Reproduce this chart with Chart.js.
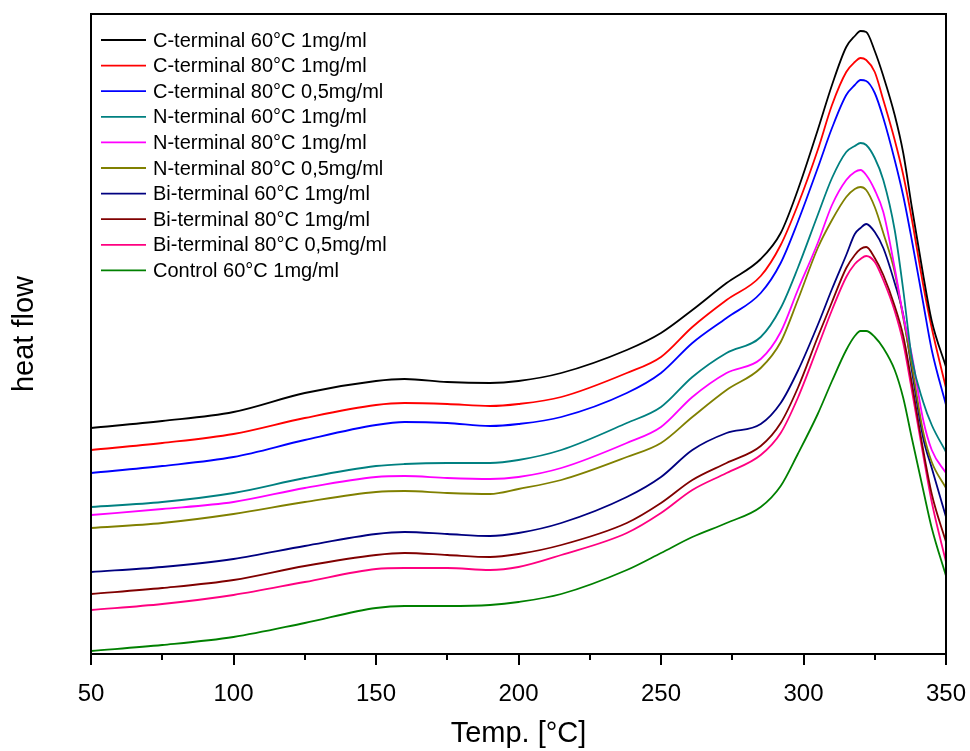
<!DOCTYPE html>
<html>
<head>
<meta charset="utf-8">
<script src="https://cdn.jsdelivr.net/npm/chart.js@4"></script>
<style>
    html, body { margin: 0; padding: 0; background: #ffffff; }
    #wrap { width: 970px; height: 751px; }
</style>
</head>
<body>
<div id="wrap"><canvas id="dsc-chart" width="970" height="751"></canvas></div>
<script>
// temperature grid shared by every trace
const temps = [50, 75, 100, 125, 150, 160, 175, 190, 200, 215, 238, 250, 261, 273, 285, 292, 298, 305, 310, 315, 318, 320, 322, 325, 328, 332, 335, 338, 342, 345, 350];

const cTerm60_1 = [2.26, 2.33, 2.42, 2.61, 2.73, 2.75, 2.72, 2.71, 2.73, 2.81, 3.04, 3.21, 3.44, 3.71, 3.95, 4.21, 4.64, 5.24, 5.69, 6.07, 6.18, 6.23, 6.22, 6.03, 5.78, 5.39, 5.01, 4.47, 3.79, 3.33, 2.87];
const cTerm80_1 = [2.04, 2.11, 2.20, 2.36, 2.49, 2.51, 2.50, 2.48, 2.50, 2.57, 2.81, 2.97, 3.27, 3.54, 3.78, 4.09, 4.49, 5.04, 5.49, 5.82, 5.92, 5.96, 5.94, 5.82, 5.54, 5.14, 4.79, 4.35, 3.69, 3.26, 2.66];
const cTerm80_05 = [1.81, 1.88, 1.97, 2.14, 2.29, 2.32, 2.31, 2.28, 2.30, 2.37, 2.61, 2.81, 3.11, 3.36, 3.61, 3.91, 4.32, 4.86, 5.26, 5.59, 5.69, 5.74, 5.73, 5.61, 5.36, 4.94, 4.58, 4.14, 3.51, 3.04, 2.49];
const nTerm60_1 = [1.47, 1.52, 1.61, 1.76, 1.88, 1.90, 1.91, 1.91, 1.94, 2.04, 2.31, 2.47, 2.77, 3.01, 3.17, 3.46, 3.86, 4.39, 4.76, 5.02, 5.08, 5.11, 5.09, 4.96, 4.74, 4.24, 3.64, 2.96, 2.52, 2.29, 2.02];
const nTerm80_1 = [1.39, 1.45, 1.52, 1.66, 1.77, 1.78, 1.76, 1.75, 1.77, 1.86, 2.11, 2.27, 2.57, 2.81, 2.95, 3.22, 3.64, 4.11, 4.49, 4.74, 4.82, 4.84, 4.79, 4.64, 4.42, 3.86, 3.38, 2.99, 2.34, 2.04, 1.81];
const nTerm80_05 = [1.26, 1.31, 1.40, 1.52, 1.62, 1.63, 1.61, 1.60, 1.65, 1.74, 1.97, 2.11, 2.37, 2.64, 2.86, 3.12, 3.54, 4.06, 4.34, 4.57, 4.65, 4.67, 4.64, 4.47, 4.21, 3.82, 3.36, 2.89, 2.22, 1.92, 1.66];
const biTerm60_1 = [0.82, 0.87, 0.95, 1.08, 1.20, 1.22, 1.20, 1.18, 1.21, 1.31, 1.57, 1.77, 2.04, 2.21, 2.30, 2.51, 2.83, 3.29, 3.65, 3.99, 4.20, 4.26, 4.30, 4.22, 4.06, 3.71, 3.39, 2.84, 2.16, 1.86, 1.37];
const biTerm80_1 = [0.60, 0.66, 0.74, 0.88, 0.99, 1.01, 0.99, 0.97, 1.00, 1.09, 1.31, 1.51, 1.74, 1.91, 2.08, 2.31, 2.66, 3.17, 3.52, 3.86, 3.99, 4.05, 4.07, 3.96, 3.79, 3.48, 3.18, 2.71, 2.04, 1.60, 1.12];
const biTerm80_05 = [0.44, 0.50, 0.59, 0.72, 0.85, 0.86, 0.86, 0.84, 0.87, 0.99, 1.21, 1.41, 1.64, 1.81, 1.99, 2.21, 2.56, 3.07, 3.44, 3.77, 3.90, 3.95, 3.98, 3.92, 3.74, 3.43, 3.11, 2.64, 1.99, 1.52, 0.92];
const control60_1 = [0.03, 0.09, 0.17, 0.31, 0.46, 0.48, 0.48, 0.49, 0.52, 0.60, 0.84, 1.01, 1.17, 1.31, 1.47, 1.68, 2.00, 2.40, 2.73, 3.04, 3.18, 3.23, 3.23, 3.17, 3.06, 2.84, 2.56, 2.16, 1.64, 1.26, 0.78];

const seriesLabels = [
    "C-terminal 60°C 1mg/ml",
    "C-terminal 80°C 1mg/ml",
    "C-terminal 80°C 0,5mg/ml",
    "N-terminal 60°C 1mg/ml",
    "N-terminal 80°C 1mg/ml",
    "N-terminal 80°C 0,5mg/ml",
    "Bi-terminal 60°C 1mg/ml",
    "Bi-terminal 80°C 1mg/ml",
    "Bi-terminal 80°C 0,5mg/ml",
    "Control 60°C 1mg/ml"
];
const seriesValues = [cTerm60_1, cTerm80_1, cTerm80_05, nTerm60_1, nTerm80_1, nTerm80_05, biTerm60_1, biTerm80_1, biTerm80_05, control60_1];
const seriesColors = ["#000000", "#ff0000", "#0000ff", "#008080", "#ff00ff", "#808000", "#000080", "#800000", "#ff0080", "#008000"];

const xTicks = [50, 100, 150, 200, 250, 300, 350];
const xMinorTicks = [75, 125, 175, 225, 275, 325];

const FONT = "'Liberation Sans', Arial, sans-serif";
const LINE_W = 1.8;

// box around the plot + minor ticks on the x axis
const framePlugin = {
    id: "frame",
    afterDraw(chart) {
        const { ctx, chartArea } = chart;
        const xScale = chart.scales.x;
        ctx.save();
        ctx.strokeStyle = "#000000";
        ctx.lineWidth = 2;
        ctx.strokeRect(chartArea.left, chartArea.top, chartArea.right - chartArea.left, chartArea.bottom - chartArea.top);
        ctx.beginPath();
        xMinorTicks.forEach((t) => {
            const px = Math.round(xScale.getPixelForValue(t));
            ctx.moveTo(px, chartArea.bottom);
            ctx.lineTo(px, chartArea.bottom + 6);
        });
        xTicks.forEach((t) => {
            const px = Math.round(xScale.getPixelForValue(t));
            ctx.moveTo(px, chartArea.bottom);
            ctx.lineTo(px, chartArea.bottom + 11);
        });
        ctx.stroke();
        ctx.restore();
    }
};

// legend drawn inside the plot, upper left
const insideLegend = {
    id: "insideLegend",
    afterDatasetsDraw(chart) {
        const { ctx, chartArea } = chart;
        const x0 = chartArea.left + 10;
        const y0 = chartArea.top + 26;
        const rowH = 25.6;
        ctx.save();
        ctx.font = "20px " + FONT;
        ctx.textBaseline = "middle";
        ctx.fillStyle = "#000000";
        chart.data.datasets.forEach((ds, i) => {
            const y = y0 + i * rowH;
            ctx.strokeStyle = ds.borderColor;
            ctx.lineWidth = LINE_W;
            ctx.beginPath();
            ctx.moveTo(x0, y);
            ctx.lineTo(x0 + 45, y);
            ctx.stroke();
            ctx.fillText(ds.label, x0 + 52, y + 1);
        });
        ctx.restore();
    }
};

const datasets = seriesValues.map((values, i) => ({
    label: seriesLabels[i],
    data: values.map((v, j) => ({ x: temps[j], y: v })),
    borderColor: seriesColors[i],
    borderWidth: LINE_W,
    pointRadius: 0,
    fill: false,
    cubicInterpolationMode: "monotone"
}));

new Chart(document.getElementById("dsc-chart").getContext("2d"), {
    type: "line",
    data: { datasets },
    plugins: [framePlugin, insideLegend],
    options: {
        responsive: false,
        animation: false,
        layout: { padding: { top: 14, right: 24, left: 8, bottom: 0 } },
        plugins: {
            legend: { display: false },
            tooltip: { enabled: false }
        },
        scales: {
            x: {
                type: "linear",
                min: 50,
                max: 350,
                grid: { display: false, drawOnChartArea: false },
                border: { display: false },
                afterBuildTicks(scale) {
                    scale.ticks = xTicks.map((v) => ({ value: v }));
                },
                afterFit(scale) {
                    scale.height = 97;
                    scale.paddingLeft = 0;
                    scale.paddingRight = 0;
                },
                ticks: {
                    color: "#000000",
                    font: { family: FONT, size: 24 },
                    padding: 18,
                    maxRotation: 0
                },
                title: {
                    display: true,
                    text: "Temp. [°C]",
                    color: "#000000",
                    font: { family: FONT, size: 29 },
                    padding: { top: 4, bottom: 0 }
                }
            },
            y: {
                min: 0,
                max: 6.4,
                grid: { display: false },
                border: { display: false },
                ticks: { display: false },
                afterFit(scale) {
                    scale.width = 83;
                    scale.paddingTop = 0;
                    scale.paddingBottom = 0;
                },
                title: {
                    display: true,
                    text: "heat flow",
                    color: "#000000",
                    font: { family: FONT, size: 29 },
                    padding: { top: 0, bottom: 0 }
                }
            }
        }
    }
});
</script>
</body>
</html>
